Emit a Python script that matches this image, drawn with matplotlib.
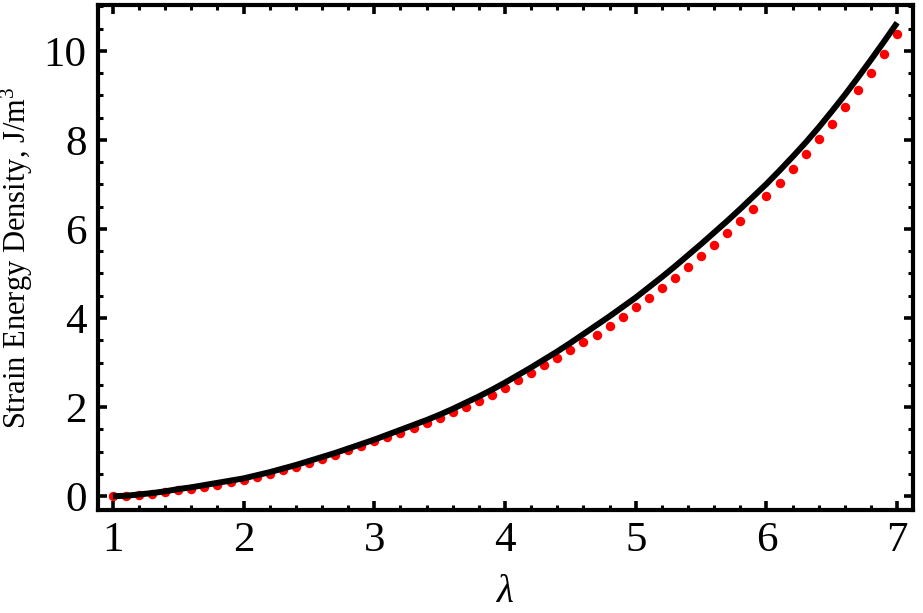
import matplotlib
matplotlib.use("Agg")
import matplotlib.pyplot as plt
from matplotlib.ticker import MultipleLocator

# Black curve (lambda, strain energy density)
curve_lambda = [1.0, 1.1, 1.2, 1.3, 1.4, 1.5, 1.6, 1.7, 1.8, 1.9,
                2.0, 2.1, 2.2, 2.3, 2.4, 2.5, 2.6, 2.7, 2.8, 2.9,
                3.0, 3.1, 3.2, 3.3, 3.4, 3.5, 3.6, 3.7, 3.8, 3.9,
                4.0, 4.1, 4.2, 4.3, 4.4, 4.5, 4.6, 4.7, 4.8, 4.9,
                5.0, 5.1, 5.2, 5.3, 5.4, 5.5, 5.6, 5.7, 5.8, 5.9,
                6.0, 6.1, 6.2, 6.3, 6.4, 6.5, 6.6, 6.7, 6.8, 6.9, 7.0]
curve_w = [0.00, 0.01, 0.04, 0.07, 0.11, 0.16, 0.20, 0.25, 0.30, 0.35,
           0.40, 0.47, 0.54, 0.62, 0.70, 0.79, 0.88, 0.97, 1.07, 1.17,
           1.27, 1.38, 1.49, 1.60, 1.71, 1.83, 1.96, 2.10, 2.24, 2.39,
           2.55, 2.72, 2.89, 3.07, 3.25, 3.44, 3.64, 3.84, 4.04, 4.25,
           4.46, 4.69, 4.92, 5.16, 5.41, 5.66, 5.92, 6.18, 6.45, 6.73,
           7.01, 7.31, 7.62, 7.94, 8.28, 8.64, 9.01, 9.40, 9.80, 10.21, 10.63]

# Red dots
dot_lambda = [1.0, 1.1, 1.2, 1.3, 1.4, 1.5, 1.6, 1.7, 1.8, 1.9,
              2.0, 2.1, 2.2, 2.3, 2.4, 2.5, 2.6, 2.7, 2.8, 2.9,
              3.0, 3.1, 3.2, 3.3, 3.4, 3.5, 3.6, 3.7, 3.8, 3.9,
              4.0, 4.1, 4.2, 4.3, 4.4, 4.5, 4.6, 4.7, 4.8, 4.9,
              5.0, 5.1, 5.2, 5.3, 5.4, 5.5, 5.6, 5.7, 5.8, 5.9,
              6.0, 6.1, 6.2, 6.3, 6.4, 6.5, 6.6, 6.7, 6.8, 6.9, 7.0]
dot_w = [0.00, 0.01, 0.03, 0.06, 0.09, 0.13, 0.17, 0.21, 0.26, 0.31,
         0.37, 0.43, 0.50, 0.58, 0.66, 0.75, 0.84, 0.93, 1.03, 1.13,
         1.23, 1.32, 1.43, 1.54, 1.65, 1.76, 1.88, 2.01, 2.14, 2.27,
         2.43, 2.60, 2.77, 2.94, 3.11, 3.29, 3.46, 3.63, 3.82, 4.02,
         4.24, 4.45, 4.67, 4.90, 5.14, 5.39, 5.64, 5.90, 6.17, 6.45,
         6.73, 7.03, 7.35, 7.68, 8.02, 8.36, 8.73, 9.11, 9.51, 9.93, 10.38]

x_ticks = [1, 2, 3, 4, 5, 6, 7]
y_ticks = [0, 2, 4, 6, 8, 10]
x_tick_labels = ['1', '2', '3', '4', '5', '6', '7']
y_tick_labels = ['0', '2', '4', '6', '8', '10']

SERIF = ['Liberation Serif', 'DejaVu Serif']
plt.rcParams['font.family'] = SERIF
plt.rcParams['mathtext.fontset'] = 'custom'
plt.rcParams['mathtext.it'] = 'Liberation Serif:italic'
plt.rcParams['mathtext.rm'] = 'Liberation Serif'

fig = plt.figure(figsize=(9.23, 6.13), dpi=100)
ax = fig.add_axes([0.106, 0.168, 0.883, 0.824])

ax.plot(dot_lambda, dot_w, linestyle='none', marker='o', markersize=6.8,
        color='#ff0000', markeredgewidth=0, zorder=2)
ax.plot(curve_lambda, curve_w, color='black', linewidth=4.3, zorder=3,
        solid_capstyle='butt', solid_joinstyle='round')

ax.set_xlim(0.885, 7.12)
ax.set_ylim(-0.31, 11.03)
ax.set_xticks(x_ticks)
ax.set_yticks(y_ticks)
ax.set_xticklabels(x_tick_labels, family=SERIF, fontsize=31)
ax.set_yticklabels(y_tick_labels, family=SERIF, fontsize=31)
ax.xaxis.set_minor_locator(MultipleLocator(0.2))
ax.yaxis.set_minor_locator(MultipleLocator(0.5))

for s in ax.spines.values():
    s.set_linewidth(3.0)
    s.set_color('black')

ax.tick_params(which='both', direction='in', top=True, right=True,
               labeltop=False, labelright=False)
ax.tick_params(which='major', length=6.5, width=2.6, pad=8)
ax.tick_params(which='minor', length=3.5, width=2.2)

ax.set_xlabel(r'$\lambda$', fontsize=28, labelpad=10)
ax.set_ylabel('Strain Energy Density, J/m$^3$', fontsize=22, family=SERIF)
ax.yaxis.set_label_coords(-0.0775, 0.5)

fig.savefig('out.png', dpi=100)
